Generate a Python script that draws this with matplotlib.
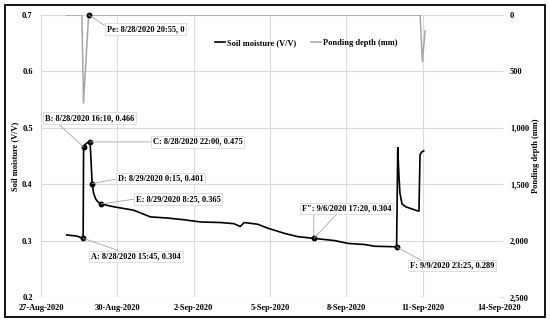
import pandas as pd
import matplotlib
matplotlib.use("Agg")
import matplotlib.pyplot as plt
import matplotlib.dates as mdates
from matplotlib.ticker import FuncFormatter
from matplotlib.patches import Rectangle

plt.rcParams['font.family'] = ['Liberation Serif', 'DejaVu Serif']
plt.rcParams['font.weight'] = 'bold'
plt.rcParams['font.size'] = 6

# --- DATI ---
sm_time = ["2020-08-28 00:20", "2020-08-28 05:00", "2020-08-28 09:50", "2020-08-28 15:45",
           "2020-08-28 16:10", "2020-08-28 18:00", "2020-08-28 20:00", "2020-08-28 22:00",
           "2020-08-28 22:30", "2020-08-28 23:15", "2020-08-29 00:15", "2020-08-29 01:30",
           "2020-08-29 03:30", "2020-08-29 05:30", "2020-08-29 08:25", "2020-08-29 20:30",
           "2020-08-30 15:10", "2020-08-31 07:20", "2020-08-31 23:20", "2020-09-01 14:40",
           "2020-09-02 06:40", "2020-09-03 01:40", "2020-09-03 14:00", "2020-09-03 19:55",
           "2020-09-03 23:40", "2020-09-04 12:25", "2020-09-04 21:55", "2020-09-05 13:20",
           "2020-09-06 02:10", "2020-09-06 17:20", "2020-09-07 13:00", "2020-09-08 01:40",
           "2020-09-08 17:20", "2020-09-09 02:50", "2020-09-09 23:25", "2020-09-10 00:30",
           "2020-09-10 01:30", "2020-09-10 02:30", "2020-09-10 04:30", "2020-09-10 08:00",
           "2020-09-10 14:00", "2020-09-10 20:30", "2020-09-10 21:30", "2020-09-10 23:00",
           "2020-09-11 01:00"]
sm_value = [0.310, 0.309, 0.308, 0.304,
            0.466, 0.471, 0.474, 0.475,
            0.468, 0.440, 0.401, 0.385,
            0.374, 0.369, 0.365, 0.360,
            0.354, 0.342, 0.340, 0.337,
            0.333, 0.332, 0.330, 0.325,
            0.332, 0.329, 0.322, 0.313,
            0.307, 0.304, 0.300, 0.295,
            0.293, 0.290, 0.289, 0.465,
            0.420, 0.385, 0.365, 0.360,
            0.356, 0.352, 0.452, 0.457,
            0.459]

pond_time = ["2020-08-28 00:15", "2020-08-28 14:35", "2020-08-28 16:05", "2020-08-28 20:55",
             "2020-09-10 21:35", "2020-09-10 23:45", "2020-09-11 02:15"]
pond_depth = [0, 0, 780, 0, 0, 414, 140]

sm_labels = ["A: 8/28/2020 15:45, 0.304", "B: 8/28/2020 16:10, 0.466",
             "C: 8/28/2020 22:00, 0.475", "D: 8/29/2020 0:15, 0.401",
             "E: 8/29/2020 8:25, 0.365", "F\u2033: 9/6/2020 17:20, 0.304",
             "F: 9/9/2020 23:25, 0.289"]
sm_label_time = ["2020-08-28 15:45", "2020-08-28 16:10", "2020-08-28 22:00", "2020-08-29 00:15",
                 "2020-08-29 08:25", "2020-09-06 17:20", "2020-09-09 23:25"]
sm_label_value = [0.304, 0.466, 0.475, 0.401, 0.365, 0.304, 0.289]

pe_label = "Pe: 8/28/2020 20:55, 0"
pe_time = "2020-08-28 20:55"
pe_depth = 0

x_ticks = pd.date_range("2020-08-27", "2020-09-14", freq="3D")

# --- GRAFICO ---
fig = plt.figure(figsize=(5.5, 3.22), dpi=100)
ax = fig.add_axes([41 / 550, 25 / 322, 458 / 550, 282 / 322])
ax2 = ax.twinx()

grigio_griglia = "#d9d9d9"
l1, = ax.plot(pd.to_datetime(sm_time), sm_value, color="black", lw=1.2, label="Soil moisture (V/V)", zorder=3)
l2, = ax2.plot(pd.to_datetime(pond_time), pond_depth, color="#a6a6a6", lw=1.1, label="Ponding depth (mm)")

ax.set_xlim(x_ticks[0], x_ticks[-1])
ax.set_xticks(x_ticks)
ax.xaxis.set_major_formatter(FuncFormatter(
    lambda v, p: f"{mdates.num2date(v).day}-{mdates.num2date(v):%b-%Y}"))
ax.set_ylim(0.2, 0.7)
ax.set_yticks([0.2, 0.3, 0.4, 0.5, 0.6, 0.7])
ax.yaxis.set_major_formatter(FuncFormatter(lambda v, p: f"{v:.1f}"))
ax2.set_ylim(2500, 0)
ax2.set_yticks(range(0, 2501, 500))
ax2.yaxis.set_major_formatter(FuncFormatter(lambda v, p: f"{int(v):,}"))

ax.grid(True, color=grigio_griglia, lw=0.8)
ax.set_axisbelow(True)
for a in (ax, ax2):
    for s in a.spines.values():
        s.set_visible(False)
ax.tick_params(axis="both", length=0)
ax.tick_params(axis="y", pad=6)
ax.tick_params(axis="x", pad=5)
ax2.tick_params(axis="y", length=3, color=grigio_griglia, pad=5)

ax.set_ylabel("Soil moisture (V/V)", fontweight="bold")
ax.yaxis.set_label_coords(-0.048, 0.5)
ax2.set_ylabel("Ponding depth (mm)", fontweight="bold")
ax2.yaxis.set_label_coords(1.072, 0.5)

# punti annotati
ax.plot(pd.to_datetime(sm_label_time), sm_label_value, "o", color="black", ms=3.2, zorder=4)
ax2.plot(pd.to_datetime([pe_time]), [pe_depth], "o", color="black", ms=3.2, zorder=4, clip_on=False)

box = dict(boxstyle="square,pad=0.2", fc="white", ec=grigio_griglia, lw=0.6)
offsets = [(8, -18), (-39, 29), (63, 0), (26, 5), (35, 5), (-12, 30), (13, -19)]
relpos = [(0.36, 1), (0.13, 0), (0, 0.5), (0, 0.5), (0, 0.5), (0.41, 0), (0.17, 1)]
for lab, t, v, off, rp in zip(sm_labels, sm_label_time, sm_label_value, offsets, relpos):
    ax.annotate(lab, xy=(pd.to_datetime(t), v), xytext=off, textcoords="offset pixels",
                ha="left", va="center", bbox=box, zorder=5,
                arrowprops=dict(arrowstyle="-", color="#a6a6a6", lw=0.6,
                                shrinkA=0, shrinkB=0, relpos=rp))
# linea verticale di F''
ax.annotate("", xy=(pd.to_datetime(sm_label_time[5]), sm_label_value[5]), xytext=(0, 26),
            textcoords="offset pixels",
            arrowprops=dict(arrowstyle="-", color="#a6a6a6", lw=0.6, shrinkA=0, shrinkB=0))

ax2.annotate(pe_label, xy=(pd.to_datetime(pe_time), pe_depth), xytext=(18, -14),
             textcoords="offset pixels", ha="left", va="center", bbox=box, zorder=5,
             arrowprops=dict(arrowstyle="-", color="#a6a6a6", lw=0.6,
                             shrinkA=0, shrinkB=0, relpos=(0, 0.8)))

ax2.legend(handles=[l1, l2], loc="center", bbox_to_anchor=(0.579, 0.90), ncol=2,
           frameon=False, handlelength=1.2, handletextpad=0.3, columnspacing=1.7,
           prop={"weight": "bold", "size": 6})

# cornice esterna
fig.patches.append(Rectangle((5 / 550, 5 / 322), 540 / 550, 312 / 322, transform=fig.transFigure,
                             fill=False, ec="black", lw=1.3))

fig.savefig("out.png", dpi=100)
